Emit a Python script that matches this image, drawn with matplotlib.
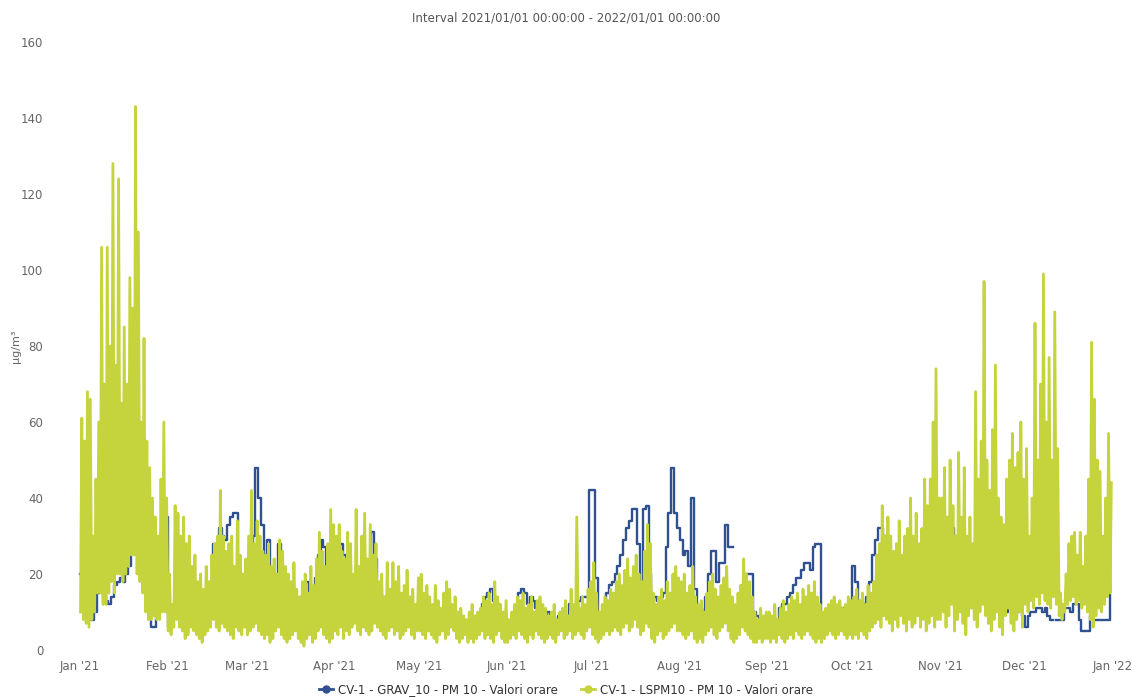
import matplotlib
matplotlib.use("Agg")
import matplotlib.pyplot as plt
import matplotlib.dates as mdates
from matplotlib.lines import Line2D
import numpy as np
import pandas as pd

# daily values, Jan..Dec 2021
days = pd.date_range("2021-01-01", "2021-12-31", freq="D")

# CV-1 LSPM10 (hourly) - daily max / min of the hourly trace
lspm_max = [
    61, 55, 68, 66, 30, 45, 60, 106, 70, 106, 80, 128, 75, 124, 65, 85, 70, 98, 90, 143, 110, 60, 82, 55, 48, 40, 35, 30, 45, 60, 40,  # jan
    20, 12, 38, 36, 30, 35, 28, 30, 22, 25, 18, 20, 16, 22, 18, 25, 28, 30, 42, 30, 26, 28, 30, 22, 34, 25, 20, 24,  # feb
    30, 42, 28, 34, 30, 26, 25, 28, 22, 24, 20, 29, 26, 22, 20, 18, 23, 16, 14, 18, 20, 15, 22, 17, 24, 31, 26, 22, 28, 37, 33,  # mar
    30, 33, 26, 24, 31, 28, 20, 37, 22, 30, 36, 24, 33, 25, 28, 18, 20, 14, 23, 16, 23, 18, 22, 15, 17, 21, 14, 16, 12, 19,  # apr
    20, 15, 17, 14, 12, 17, 13, 11, 15, 18, 16, 12, 14, 10, 11, 9, 8, 10, 12, 9, 10, 11, 14, 13, 15, 12, 18, 14, 12, 10, 13,  # may
    8, 10, 12, 14, 13, 15, 11, 12, 14, 10, 13, 14, 12, 11, 9, 10, 12, 8, 10, 11, 13, 9, 16, 12, 35, 11, 14, 12, 16, 18,  # jun
    23, 15, 10, 12, 14, 13, 16, 15, 18, 20, 17, 21, 24, 19, 22, 25, 20, 18, 26, 33, 28, 15, 12, 14, 16, 13, 18, 15, 20, 22, 19,  # jul
    18, 20, 15, 17, 22, 14, 12, 13, 10, 15, 18, 20, 16, 14, 17, 19, 22, 16, 14, 12, 15, 17, 24, 20, 18, 14, 10, 8, 11, 9, 10,  # aug
    10, 9, 12, 8, 11, 13, 10, 12, 14, 13, 15, 12, 16, 14, 17, 15, 18, 14, 12, 10, 11, 12, 13, 14, 12, 13, 11, 12, 14, 13,  # sep
    14, 16, 13, 15, 12, 17, 15, 18, 25, 28, 38, 30, 35, 30, 26, 28, 34, 25, 30, 32, 40, 30, 36, 28, 32, 45, 38, 45, 60, 74, 40,  # oct
    40, 48, 35, 50, 38, 30, 52, 35, 48, 30, 35, 28, 68, 45, 55, 97, 50, 42, 58, 75, 40, 35, 33, 45, 50, 57, 48, 52, 60, 45,  # nov
    53, 30, 40, 86, 50, 70, 99, 60, 77, 50, 89, 53, 15, 12, 20, 28, 30, 31, 25, 31, 22, 30, 45, 81, 66, 50, 47, 30, 40, 57, 44,  # dec
]
lspm_min = [
    10, 8, 7, 6, 8, 10, 15, 15, 12, 12, 15, 18, 15, 20, 20, 18, 20, 22, 25, 25, 20, 18, 15, 10, 8, 8, 9, 8, 8, 10, 10,
    5, 4, 6, 8, 6, 5, 3, 4, 6, 5, 4, 3, 2, 4, 5, 6, 8, 6, 5, 7, 6, 5, 4, 3, 6, 5, 4, 6,
    4, 5, 6, 7, 5, 4, 3, 4, 2, 3, 5, 6, 4, 3, 2, 3, 4, 5, 3, 2, 1, 3, 4, 2, 3, 5, 6, 4, 3, 2, 3,
    5, 4, 6, 3, 5, 4, 6, 7, 5, 4, 6, 5, 4, 5, 7, 6, 5, 4, 3, 5, 6, 4, 5, 3, 4, 5, 6, 4, 3, 5,
    5, 4, 3, 5, 4, 3, 2, 4, 5, 3, 4, 6, 5, 3, 2, 3, 4, 2, 3, 2, 3, 4, 5, 3, 4, 3, 2, 4, 5, 3, 2,
    2, 3, 4, 3, 5, 4, 3, 2, 4, 3, 5, 4, 3, 2, 3, 4, 3, 2, 4, 5, 3, 4, 5, 3, 4, 5, 4, 3, 5, 6,
    4, 3, 2, 3, 4, 5, 4, 5, 6, 5, 4, 6, 7, 5, 6, 8, 6, 4, 5, 7, 6, 3, 2, 4, 5, 3, 4, 5, 6, 7, 5,
    5, 4, 3, 4, 5, 3, 2, 3, 2, 4, 5, 6, 4, 3, 5, 6, 7, 5, 3, 2, 3, 4, 6, 5, 4, 3, 2, 2, 3, 2, 3,
    3, 2, 3, 2, 4, 3, 2, 3, 4, 3, 5, 4, 3, 4, 5, 4, 3, 2, 3, 2, 3, 4, 5, 4, 3, 4, 5, 4, 3, 4,
    3, 4, 3, 5, 4, 3, 5, 6, 7, 8, 6, 9, 8, 7, 5, 8, 6, 9, 7, 5, 8, 6, 7, 9, 6, 8, 5, 7, 9, 6, 8,
    8, 10, 6, 9, 12, 5, 8, 10, 7, 4, 9, 11, 8, 6, 10, 12, 9, 7, 5, 8, 10, 6, 4, 9, 11, 7, 5, 8, 10, 6,
    12, 10, 13, 11, 14, 12, 15, 13, 12, 11, 14, 12, 9, 8, 10, 12, 13, 14, 12, 13, 11, 12, 10, 8, 6, 9, 11, 10, 12, 14, 15,
]

# CV-1 GRAV_10 (daily gravimetric), None = missing
grav = [
    20, 15, 12, 9, 8, 10, 15, 18, 14, 13, 12, 14, 17, 18, 19, 18, 20, 22, 28, 35, 38, 42, 35, 25, 15, 6, 6, 10, 20, 40, 35,
    6, 7, 10, 20, 22, 15, 12, 14, 13, 12, 16, 15, 11, 10, 14, 13, 28, 27, 32, 30, 29, 33, 35, 36, 36, 15, 11, 14,
    16, 22, 30, 48, 40, 33, 14, 29, 20, 10, 12, 28, 18, 18, 15, 14, 10, 8, 9, 11, 14, 18, 10, 7, 19, 25, 29, 27, 12, 10, 11,
    14, 18, 28, 25, 20, 16, 12, 10, 14, 18, 15, 20, 22, 31, 24, 10, 12, 14, 10, 12, 13, 11, 9, 10, 8, 12, 11, 9, 8, 10,
    10, 12, 9, 8, 10, 11, 7, 9, 8, 10, 9, 8, 7, 6, 7, 5, 6, 7, 8, 6, 5, 8, 12, 14, 15, 16, 13, 12, 9, 6, 4,
    4, 6, 8, 9, 15, 16, 15, 12, 14, 13, 11, 10, 9, 8, 10, 9, 8, 7, 9, 10, 8, 9, 12, 10, 9, 13, 14, 14, 14, 42,
    42, 19, 7, 8, 10, 15, 17, 18, 20, 22, 25, 29, 32, 34, 37, 37, 28, 8, 37, 38, 20, 8, 14, 13, 14, 15, 27, 36, 48, 36, 32,
    29, 25, 26, 22, 40, 16, 11, 11, 10, 14, 20, 26, 26, 18, 23, 23, 33, 27, 27, None, None, 12, 17, 20, 20, 20, 10, 9, 8, 7, 7,
    7, 7, 8, 8, 11, 12, 12, 14, 15, 17, 19, 19, 21, 23, 23, 21, 27, 28, 28, 6, 6, 7, 8, 9, 10, 11, 11, 10, 9, 9,
    22, 18, 13, 12, 12, 14, 18, 25, 29, 32, 32, 30, 22, 18, 15, 20, 25, 18, 15, 20, 22, 18, 16, 20, 25, 28, 30, 25, 22, 20, 18,
    25, 30, 28, 35, 32, 22, 24, 20, 18, 16, 20, 22, 25, 28, 30, 32, 25, 15, 18, 16, 12, 14, 12, 10, 14, 16, 12, 10, 11, 9,
    6, 9, 10, 10, 11, 11, 10, 11, 9, 8, None, 8, 8, 8, 11, 11, 10, 12, 12, 8, 5, 5, 5, 9, 8, 8, 8, 8, 8, 8, 17,
]

label_grav = "CV-1 - GRAV_10 - PM 10 - Valori orare"
label_lspm = "CV-1 - LSPM10 - PM 10 - Valori orare"
title = "Interval 2021/01/01 00:00:00 - 2022/01/01 00:00:00"

blue = "#2f5190"
yellow = "#c5d33c"
grey = "#666666"

t = mdates.date2num(days)
# hourly trace drawn as a min/max zig-zag within each day
yt = np.column_stack([t + 0.15, t + 0.6]).ravel()
yv = np.column_stack([lspm_min, lspm_max]).ravel()
gv = np.array([np.nan if v is None else v for v in grav], dtype=float)

fig = plt.figure(figsize=(11.32, 6.97), dpi=100)
ax = fig.add_axes([0.069, 0.0674, 0.92, 0.8723])

ax.step(t, gv, where="post", color=blue, lw=1.7, zorder=2)
ax.plot(yt, yv, color=yellow, lw=2.0, zorder=3)

ax.set_ylim(0, 160)
ax.set_yticks(range(0, 161, 20))
ax.set_xlim(mdates.date2num(pd.Timestamp("2021-01-01")) - 0.7,
            mdates.date2num(pd.Timestamp("2021-01-01")) + 367.5)
ax.xaxis.set_major_locator(mdates.MonthLocator())
ax.xaxis.set_major_formatter(mdates.DateFormatter("%b '%y"))

for s in ax.spines.values():
    s.set_visible(False)
ax.tick_params(axis="both", length=0, labelsize=8.5, colors=grey)
ax.tick_params(axis="y", pad=25)
ax.tick_params(axis="x", pad=7)
ax.set_ylabel("µg/m³", fontsize=8, color=grey)
ax.yaxis.set_label_coords(-0.055, 0.5)

fig.text(0.5, 0.974, title, ha="center", va="center", fontsize=8.5, color="#555555")

handles = [
    Line2D([], [], color=blue, lw=2, marker="o", markersize=5),
    Line2D([], [], color=yellow, lw=2, marker="o", markersize=5),
]
fig.legend(handles, [label_grav, label_lspm], loc="center", bbox_to_anchor=(0.5, 0.01),
           ncol=2, frameon=False, fontsize=8.5, labelcolor="#333333",
           handlelength=1.2, handletextpad=0.4, columnspacing=2.0)

fig.savefig("out.png", dpi=100)
